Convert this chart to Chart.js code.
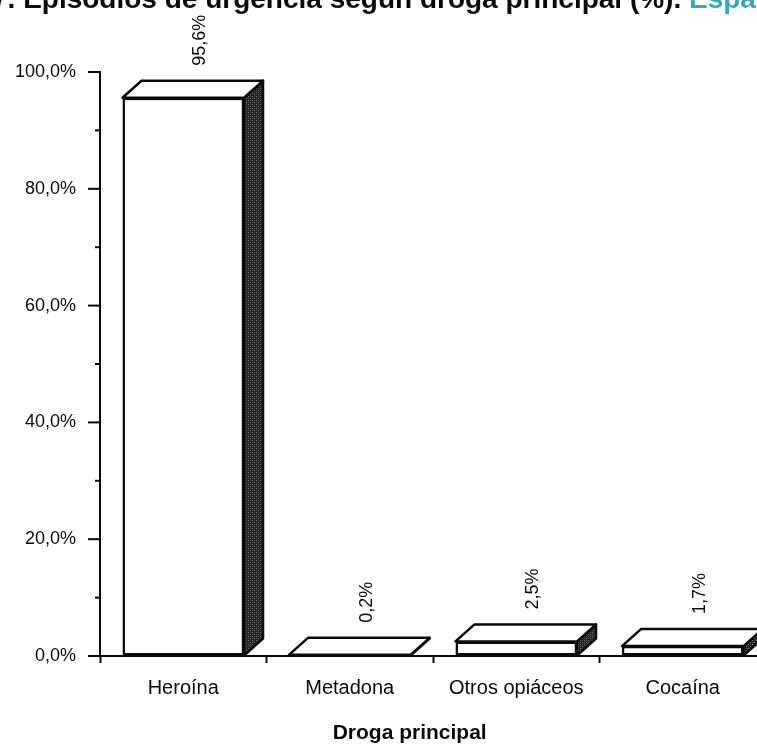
<!DOCTYPE html>
<html>
<head>
<meta charset="utf-8">
<script src="https://cdn.jsdelivr.net/npm/chart.js@4.4.1/dist/chart.umd.min.js"></script>
<style>
  html, body { margin: 0; padding: 0; background: #fff; overflow: hidden; }
</style>
</head>
<body>
<canvas id="chart" width="770" height="746"></canvas>
<script>
const categories = ['Heroína', 'Metadona', 'Otros opiáceos', 'Cocaína'];
const shares = [95.6, 0.2, 2.5, 1.7];
const yTickValues = [0, 20, 40, 60, 80, 100];
const yMinorStep = 10;
const titleText = '7. Episodios de urgencia según droga principal (%). ';
const titleTail = 'España';
const axisTitle = 'Droga principal';

const FONT = "'Liberation Sans', Arial, Helvetica, sans-serif";
const INK = '#0a0a0a';
const DEPTH_X = 19, DEPTH_Y = 17;

function pct(v) {
    return Number(v).toFixed(1).replace('.', ',') + '%';
}

// dark dotted fill for the right-hand side of each box
function stipple(ctx) {
    const c = document.createElement('canvas');
    c.width = 4; c.height = 4;
    const p = c.getContext('2d');
    p.fillStyle = '#222';
    p.fillRect(0, 0, 4, 4);
    p.fillStyle = '#777';
    p.fillRect(0, 0, 1, 1);
    p.fillRect(2, 2, 1, 1);
    p.fillStyle = '#4a4a4a';
    p.fillRect(2, 0, 1, 1);
    p.fillRect(0, 2, 1, 1);
    return ctx.createPattern(c, 'repeat');
}

const boxes = {
    id: 'boxes',
    afterDatasetsDraw(chart) {
        const ctx = chart.ctx;
        const meta = chart.getDatasetMeta(0);
        const side = stipple(ctx);
        ctx.save();
        ctx.lineWidth = 2.5;
        ctx.strokeStyle = INK;
        ctx.lineJoin = 'round';
        meta.data.forEach((bar, i) => {
            const { x, y, base, width } = bar.getProps(['x', 'y', 'base', 'width'], true);
            const l = x - width / 2, r = x + width / 2;

            // side face
            ctx.beginPath();
            ctx.moveTo(r, base);
            ctx.lineTo(r, y);
            ctx.lineTo(r + DEPTH_X, y - DEPTH_Y);
            ctx.lineTo(r + DEPTH_X, base - DEPTH_Y);
            ctx.closePath();
            ctx.fillStyle = side;
            ctx.fill();
            ctx.stroke();

            // top face
            ctx.beginPath();
            ctx.moveTo(l, y);
            ctx.lineTo(r, y);
            ctx.lineTo(r + DEPTH_X, y - DEPTH_Y);
            ctx.lineTo(l + DEPTH_X, y - DEPTH_Y);
            ctx.closePath();
            ctx.fillStyle = '#fff';
            ctx.fill();
            ctx.stroke();

            // value, written upwards above the box
            ctx.save();
            ctx.translate(x + 17, y - DEPTH_Y - 15);
            ctx.rotate(-Math.PI / 2);
            ctx.fillStyle = INK;
            ctx.font = '18px ' + FONT;
            ctx.textAlign = 'left';
            ctx.textBaseline = 'middle';
            ctx.fillText(pct(shares[i]), 0, 0);
            ctx.restore();
        });
        ctx.restore();
    },
    afterDraw(chart) {
        const ctx = chart.ctx;
        const area = chart.chartArea;
        const ys = chart.scales.y;
        ctx.save();

        // y ticks: long at labelled values, short in between
        ctx.strokeStyle = INK;
        ctx.lineWidth = 2;
        for (let v = ys.min; v <= ys.max; v += yMinorStep) {
            const py = ys.getPixelForValue(v);
            const len = yTickValues.includes(v) ? 12 : 5;
            ctx.beginPath();
            ctx.moveTo(area.left - len, py);
            ctx.lineTo(area.left, py);
            ctx.stroke();
        }

        // heading, only its lower part fits on the page
        ctx.font = 'bold 28px ' + FONT;
        ctx.textAlign = 'left';
        ctx.textBaseline = 'alphabetic';
        const tx = -8, ty = 8;
        ctx.fillStyle = INK;
        ctx.fillText(titleText, tx, ty);
        ctx.fillStyle = '#3aa6c0';
        ctx.fillText(titleTail, tx + ctx.measureText(titleText).width, ty);

        // x axis title
        ctx.font = 'bold 21px ' + FONT;
        ctx.fillStyle = INK;
        ctx.textAlign = 'center';
        ctx.textBaseline = 'middle';
        ctx.fillText(axisTitle, area.left + (area.right - area.left) * 0.465, 733);

        ctx.restore();
    }
};

new Chart(document.getElementById('chart').getContext('2d'), {
    type: 'bar',
    data: {
        labels: categories,
        datasets: [{
            data: shares,
            backgroundColor: '#fff',
            borderColor: INK,
            borderWidth: 2.5,
            borderSkipped: false,
            barPercentage: 0.73,
            categoryPercentage: 1.0
        }]
    },
    options: {
        responsive: false,
        animation: false,
        layout: { padding: { top: 72, right: 4, left: 0, bottom: 0 } },
        plugins: {
            legend: { display: false },
            tooltip: { enabled: false }
        },
        scales: {
            x: {
                grid: { offset: true, drawOnChartArea: false, tickLength: 7, tickColor: INK, tickWidth: 2 },
                border: { color: INK, width: 2 },
                ticks: { color: INK, font: { family: FONT, size: 20 }, padding: 13, maxRotation: 0 },
                afterFit: s => { s.height = 90; }
            },
            y: {
                min: 0,
                max: 100,
                afterBuildTicks: s => { s.ticks = yTickValues.map(v => ({ value: v })); },
                grid: { drawOnChartArea: false, drawTicks: false },
                border: { color: INK, width: 2 },
                ticks: { color: INK, font: { family: FONT, size: 18 }, padding: 24, callback: v => pct(v) },
                afterFit: s => { s.width = 100; }
            }
        }
    },
    plugins: [boxes]
});
</script>
</body>
</html>
